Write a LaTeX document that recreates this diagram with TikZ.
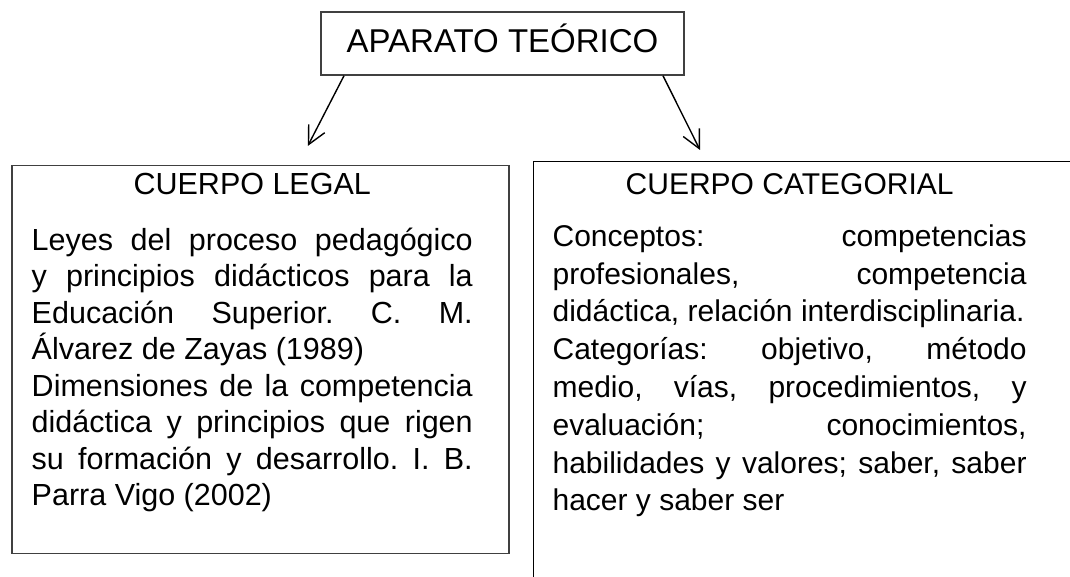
\documentclass[tikz,border=0pt]{standalone}
\usepackage{fontspec}
\setmainfont{Liberation Sans}
\usepackage{tikz}
\usetikzlibrary{positioning,arrows.meta}
\tikzset {
    style A/.style={
        draw=black!75,
        line width=1.5pt,
        rectangle, % Set the shape as a rectangle
        minimum width=363pt,
        minimum height=63pt,
        text height=23.6pt,
        text depth=5.5pt,
        inner sep=0pt,
        font=\fontsize{33}{39}\selectfont,
        align=center,
    },
    style B/.style={
        draw=black!75,
        line width=1.5pt,
        rectangle, % Set the shape as a rectangle
        inner sep=0pt,
        anchor=north west,
    },
    style C/.style={
        style B,
        draw=black,
        line width=1.2pt,
    },
    arrow A/.style={
        draw=black,
        line width=1.4pt,
        -{Straight Barb[length=18pt,width=18pt]},
    },
}

\begin{document}
\begin{tikzpicture}[x=1pt, y=1pt]
        \useasboundingbox (0,0) rectangle (1070,576);
        \clip (0,0) rectangle (1070,576);
        \node[style A] (apar) at (502.5,532.5) {APARATO TEÓRICO};
        \node[style B] (legal) at (11,411.3) {
            \begin{minipage}[t][388pt][t]{497pt}
                \fontsize{30.5}{36.5}\selectfont\frenchspacing\parindent=0pt\tolerance=10000
                \vspace*{7.8pt}
                {\leftskip=20pt plus 1fil\rightskip=36pt plus 1fil\parfillskip=0pt CUERPO LEGAL\par}
                \vspace{19.2pt}
                \leftskip=20pt\rightskip=36pt
                Leyes del proceso pedagógico\linebreak y principios didácticos para la\linebreak Educación Superior. C. M.\linebreak Álvarez de Zayas (1989)\par
                Dimensiones de la competencia\linebreak didáctica y principios que rigen\linebreak su formación y desarrollo. I. B.\linebreak Parra Vigo (2002)\par
            \end{minipage}
        };
        \node[style C] (categ) at (533,415.3) {
            \begin{minipage}[t][430pt][t]{560pt}
                \fontsize{30}{37.8}\selectfont\frenchspacing\parindent=0pt\tolerance=10000
                \vspace*{12.1pt}
                {\leftskip=19pt plus 1fil\rightskip=67pt plus 1fil\parfillskip=0pt CUERPO CATEGORIAL\par}
                \vspace{14.2pt}
                \leftskip=19pt\rightskip=67pt
                Conceptos: competencias\linebreak profesionales, competencia\linebreak didáctica, relación interdisciplinaria.\par
                Categorías: objetivo, método\linebreak medio, vías, procedimientos, y\linebreak evaluación; conocimientos,\linebreak habilidades y valores; saber, saber\linebreak hacer y saber ser\par
            \end{minipage}
        };
        % connectors
        \draw[arrow A] ([xshift=-158.5pt]apar.south) -- ([xshift=47.5pt,yshift=18.7pt]legal.north);
        \draw[arrow A] ([xshift=160.5pt]apar.south) -- ([xshift=167pt,yshift=10.7pt]categ.north west);
\end{tikzpicture}
\end{document}
